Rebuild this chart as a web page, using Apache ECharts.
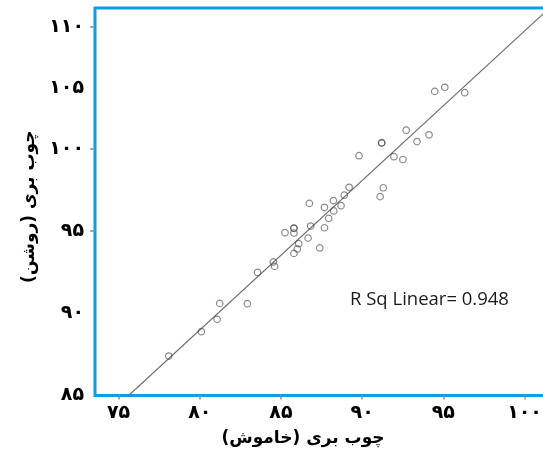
<!DOCTYPE html>
<html>
<head>
<meta charset="utf-8">
<script src="https://cdn.jsdelivr.net/npm/echarts@6/dist/echarts.min.js"></script>
<style>
html,body{margin:0;padding:0;background:#fff;}
#chart{width:543px;height:454px;}
</style>
</head>
<body>
<div id="chart"></div>
<script>
// Data: x = چوب بری (خاموش), y = چوب بری (روشن)
const offValues = [78.09, 80.10, 81.07, 81.23, 82.93, 83.56, 84.53, 84.61, 85.25, 85.80,
  85.80, 85.80, 85.80, 86.01, 86.09, 86.67, 86.83, 86.75, 87.39, 87.68,
  87.68, 87.94, 88.23, 88.25, 88.70, 88.90, 89.20, 89.81, 91.11, 91.30,
  91.20, 91.21, 91.96, 92.51, 92.71, 93.38, 94.12, 94.47, 95.09, 96.32];
const onValues = [87.40, 88.88, 89.63, 90.60, 90.58, 92.48, 93.12, 92.85, 94.90, 95.16,
  95.18, 94.88, 93.64, 93.91, 94.23, 94.57, 95.30, 96.68, 93.97, 95.20,
  96.44, 95.77, 96.85, 96.22, 96.54, 97.18, 97.66, 99.58, 97.09, 97.63,
  100.35, 100.37, 99.52, 99.35, 101.13, 100.44, 100.85, 103.49, 103.74, 103.41];
// Fit line end points
const fitX = [75.62, 101.3];
const fitY = [85.0, 108.34];
const rSqText = 'R Sq Linear= 0.948';

// Tick labels (Persian digits) and where the reference prints them
const xTickValues = [75, 80, 85, 90, 95, 100];
const xTickLabels = ['۷۵', '۸۰', '۸۵', '۹۰', '۹۵', '۱۰۰'];
const yTickValues = [85, 90, 95, 100, 103.67, 107.4];
const yTickLabels = ['۸۵', '۹۰', '۹۵', '۱۰۰', '۱۰۵', '۱۱۰'];
const yTickMarks = [95, 100, 107.4];

const xName = '\u200Fچوب بری (خاموش)\u200F';
const yName = '\u200Fچوب بری (روشن)\u200F';

const points = offValues.map((v, i) => [v, onValues[i]]);
const fitLine = fitX.map((v, i) => [v, fitY[i]]);

function nearestLabel(values, labels, v) {
  let best = 0;
  for (let i = 1; i < values.length; i++) {
    if (Math.abs(values[i] - v) < Math.abs(values[best] - v)) best = i;
  }
  return labels[best];
}

const blue = '#0aa0e3';
const persianFont = '"DejaVu Sans"';

const chart = echarts.init(document.getElementById('chart'), null, {renderer: 'canvas'});
chart.setOption({
  animation: false,
  backgroundColor: '#fff',
  grid: {
    left: 95, top: 8, right: -14, bottom: 58.5,
    outerBoundsMode: 'none', containLabel: false,
    show: true, borderColor: blue, borderWidth: 3, backgroundColor: '#fff'
  },
  xAxis: {
    type: 'value', min: 73.55, max: 102,
    axisLine: {show: false},
    splitLine: {show: false},
    axisTick: {show: true, customValues: xTickValues, length: 4, lineStyle: {color: '#8c8c8c', width: 1.5}},
    axisLabel: {
      customValues: xTickValues, margin: 8,
      formatter: v => nearestLabel(xTickValues, xTickLabels, v),
      fontFamily: persianFont, fontWeight: 'bold', fontSize: 19, color: '#000'
    },
    name: xName, nameLocation: 'middle', nameGap: 35,
    nameTextStyle: {fontFamily: persianFont, fontWeight: 'bold', fontSize: 17, color: '#000', padding: [0, 46, 0, 0]}
  },
  yAxis: {
    type: 'value', min: 85, max: 108.56,
    axisLine: {show: false},
    splitLine: {show: false},
    axisTick: {show: true, customValues: yTickMarks, length: 5, lineStyle: {color: '#8c8c8c', width: 1.5}},
    axisLabel: {
      customValues: yTickValues, margin: 11,
      formatter: v => nearestLabel(yTickValues, yTickLabels, v),
      fontFamily: persianFont, fontWeight: 'bold', fontSize: 19, color: '#000'
    },
    name: yName, nameLocation: 'middle', nameGap: 57,
    nameTextStyle: {fontFamily: persianFont, fontWeight: 'bold', fontSize: 17, color: '#000', padding: [0, 10, 0, 0]}
  },
  series: [
    {
      type: 'line', data: fitLine, symbol: 'none', silent: true,
      lineStyle: {color: '#6e6e6e', width: 1.1}, z: 2
    },
    {
      type: 'scatter', data: points, symbol: 'circle', symbolSize: 6.5,
      itemStyle: {color: 'rgba(255,255,255,0)', borderColor: 'rgba(60,60,60,0.75)', borderWidth: 1.2},
      z: 3
    }
  ],
  graphic: [{
    type: 'text', left: 350, top: 290,
    style: {text: rSqText, font: '18.5px "Open Sans"', fill: '#1a1a1a'}
  }]
});
</script>
</body>
</html>
